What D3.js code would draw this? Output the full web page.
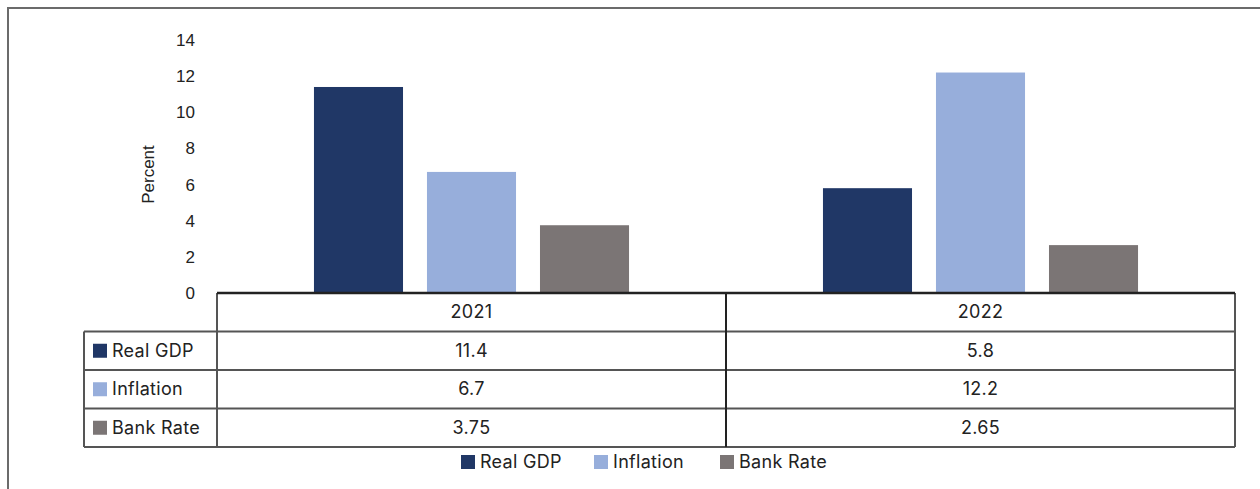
<!DOCTYPE html>
<html>
<head>
<meta charset="utf-8">
<script src="https://cdn.jsdelivr.net/npm/d3@7"></script>
<style>
  body { margin: 0; background: #fff; }
  svg { display: block; }
</style>
</head>
<body>
<svg id="drawing_region"></svg>
<script>
const years = ['2021', '2022'];
const seriesNames = ['Real GDP', 'Inflation', 'Bank Rate'];
const realGdp = [11.4, 5.8];
const inflation = [6.7, 12.2];
const bankRate = [3.75, 2.65];
const tableLabels = ['11.4', '5.8', '6.7', '12.2', '3.75', '2.65'];
const yTicks = [0, 2, 4, 6, 8, 10, 12, 14];

const colors = ['#203766', '#97aedb', '#7b7575'];
const seriesValues = [realGdp, inflation, bankRate];

const width = 1260, height = 489;
const plot = { left: 217, right: 1235, top: 40, bottom: 293 };
const rowH = 38.5;
const labelLeft = 84;

const svg = d3.select('#drawing_region')
    .attr('width', width)
    .attr('height', height);

// outer frame (runs off the right and bottom of the picture)
svg.append('path')
    .attr('d', `M8,${height + 5} L8,8 L${width + 5},8`)
    .attr('fill', 'none')
    .attr('stroke', '#6b6b6b')
    .attr('stroke-width', 2);

const xscale = d3.scaleBand()
    .domain(years)
    .range([plot.left, plot.right]);

const inner = d3.scaleBand()
    .domain(seriesNames)
    .range([0, xscale.bandwidth()])
    .paddingInner(0.212)
    .paddingOuter(0.858);

const yscale = d3.scaleLinear()
    .domain([0, 14])
    .range([plot.bottom, plot.top]);

// y axis
const yaxis = d3.axisLeft(yscale)
    .tickValues(yTicks)
    .tickSize(0)
    .tickPadding(22);

const yg = svg.append('g')
    .attr('transform', `translate(${plot.left},0)`)
    .call(yaxis);
yg.select('.domain').remove();
yg.selectAll('text')
    .attr('font-family', '"Liberation Sans", Arial, sans-serif')
    .attr('font-size', 17)
    .attr('fill', '#222');

svg.append('text')
    .text('Percent')
    .attr('transform', `translate(154, ${(plot.top + plot.bottom) / 2 + 8}) rotate(-90)`)
    .attr('text-anchor', 'middle')
    .attr('font-family', '"Liberation Sans", Arial, sans-serif')
    .attr('font-size', 17)
    .attr('fill', '#222');

// bars
seriesNames.forEach((name, si) => {
    svg.append('g')
        .selectAll('rect')
        .data(years.map((y, i) => ({ year: y, value: seriesValues[si][i] })))
        .enter()
        .append('rect')
        .attr('x', d => xscale(d.year) + inner(name))
        .attr('width', inner.bandwidth())
        .attr('y', d => yscale(d.value))
        .attr('height', d => yscale(0) - yscale(d.value))
        .attr('fill', colors[si]);
});

// data table
const tableFont = 'Inter, "Noto Sans", sans-serif';
const table = svg.append('g')
    .attr('font-family', tableFont)
    .attr('font-size', 18)
    .attr('letter-spacing', 0.3)
    .attr('fill', '#222');
const lineColor = '#555';

// header row
years.forEach(y => {
    table.append('text')
        .text(y)
        .attr('x', xscale(y) + xscale.bandwidth() / 2)
        .attr('y', plot.bottom + rowH / 2 + 6)
        .attr('text-anchor', 'middle');
});

seriesNames.forEach((name, si) => {
    const top = plot.bottom + rowH * (si + 1);
    table.append('rect')
        .attr('x', labelLeft + 9)
        .attr('y', top + rowH / 2 - 7)
        .attr('width', 14)
        .attr('height', 14)
        .attr('fill', colors[si]);
    table.append('text')
        .text(name)
        .attr('x', labelLeft + 28)
        .attr('y', top + rowH / 2 + 6);
    years.forEach((y, i) => {
        table.append('text')
            .text(tableLabels[si * 2 + i])
            .attr('x', xscale(y) + xscale.bandwidth() / 2)
            .attr('y', top + rowH / 2 + 6)
            .attr('text-anchor', 'middle');
    });
});

// table grid lines
for (let r = 1; r <= 4; r++) {
    table.append('line')
        .attr('x1', labelLeft).attr('x2', plot.right)
        .attr('y1', plot.bottom + rowH * r).attr('y2', plot.bottom + rowH * r)
        .attr('stroke', lineColor).attr('stroke-width', 2);
}
table.append('line')
    .attr('x1', labelLeft).attr('x2', labelLeft)
    .attr('y1', plot.bottom + rowH).attr('y2', plot.bottom + rowH * 4)
    .attr('stroke', lineColor).attr('stroke-width', 2);
[plot.left, xscale('2022'), plot.right].forEach(x => {
    table.append('line')
        .attr('x1', x).attr('x2', x)
        .attr('y1', plot.bottom).attr('y2', plot.bottom + rowH * 4)
        .attr('stroke', x === xscale('2022') ? '#222' : lineColor)
        .attr('stroke-width', 2);
});
// baseline
table.append('line')
    .attr('x1', plot.left).attr('x2', plot.right)
    .attr('y1', plot.bottom).attr('y2', plot.bottom)
    .attr('stroke', '#222').attr('stroke-width', 2.5);

// legend
const legendX = [461, 594, 720];
const legend = svg.append('g')
    .attr('font-family', tableFont)
    .attr('font-size', 18)
    .attr('letter-spacing', 0.3)
    .attr('fill', '#222');
seriesNames.forEach((name, si) => {
    legend.append('rect')
        .attr('x', legendX[si])
        .attr('y', 455)
        .attr('width', 14)
        .attr('height', 14)
        .attr('fill', colors[si]);
    legend.append('text')
        .text(name)
        .attr('x', legendX[si] + 19)
        .attr('y', 468);
});
</script>
</body>
</html>
